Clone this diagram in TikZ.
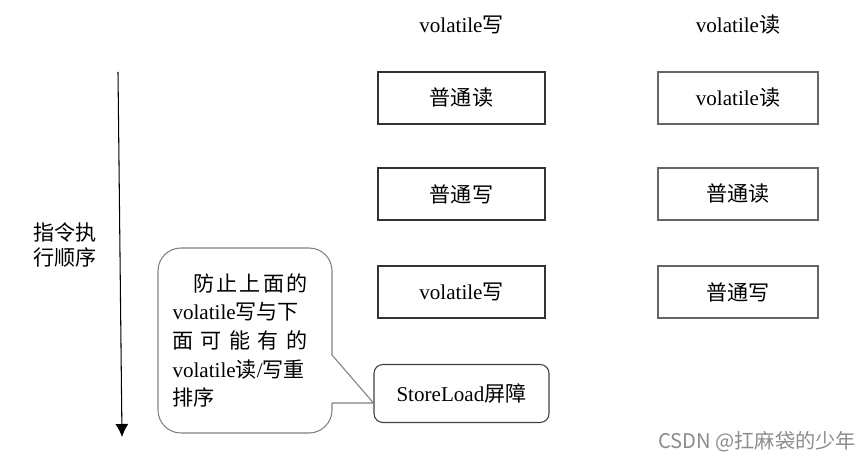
\documentclass[tikz,border=0pt]{standalone}
\usepackage{fontspec}
\setmainfont{Liberation Serif}
\newfontfamily\cjkfont{Noto Sans CJK SC}
\usepackage{tikz}
\usetikzlibrary{arrows.meta,positioning,calc}
\usepackage{xcolor}
\newcommand{\zh}[1]{{\cjkfont #1}}
\newcommand{\fsz}{\fontsize{12pt}{14pt}\selectfont}

\begin{document}
\begin{tikzpicture}[x=0.02cm,y=-0.02cm,
  opbox/.style={draw=black!80,line width=0.6pt,minimum width=3.34cm,minimum height=1.04cm,font=\fsz},
  rdbox/.style={opbox,draw=black!60,minimum width=3.2cm},
  barrier/.style={draw=black!75,line width=0.6pt,rounded corners=5pt,minimum width=3.5cm,minimum height=1.16cm,font=\fsz},
  note/.style={draw=black!50,line width=0.6pt,rounded corners=13pt,minimum width=3.48cm,minimum height=3.7cm,text width=2.9cm,align=left,font=\fontsize{12pt}{16.3pt}\selectfont},
  head/.style={font=\fsz}]
\useasboundingbox (0,0) rectangle (867,465);
% column headers
\node[head] (hw) at (461.5,25) {volatile\zh{写}};
\node[head] (hr) at (738,25) {volatile\zh{读}};
% volatile write column
\node[opbox] (w1) at (461.5,98) {\zh{普通读}};
\node[opbox] (w2) at (461.5,194) {\zh{普通写}};
\node[opbox] (w3) at (461.5,292) {volatile\zh{写}};
\node[barrier] (sl) at (461.5,393.5) {StoreLoad\zh{屏障}};
% volatile read column
\node[rdbox] (r1) at (738,98) {volatile\zh{读}};
\node[rdbox] (r2) at (738,194) {\zh{普通读}};
\node[rdbox] (r3) at (738,292) {\zh{普通写}};
% execution order
\coordinate (top) at (118,72);
\coordinate (bot) at (122,437);
\draw[line width=0.6pt,-{Latex[length=0.26cm,width=0.26cm]}] (top) -- (bot);
\node[font=\fsz,align=left] (order) at (65,245) {\zh{指令执}\\\zh{行顺序}};
% callout
\node[note] (nt) at (245,340.5) {%
\makebox[2.7cm][l]{\hspace*{1em}\zh{防\hfill 止\hfill 上\hfill 面\hfill 的}}\\
volatile\zh{写与下}\\
\makebox[2.7cm][l]{\zh{面\hfill 可\hfill 能\hfill 有\hfill 的}}\\
volatile\zh{读}/\zh{写重}\\
\zh{排序}};
\coordinate (pa) at (332,355);
\coordinate (pb) at (332,403);
\coordinate (tip) at ($(sl.west)+(0,9.5)$);
\draw[white,line width=1.5pt] (pa) -- (pb);
\draw[draw=black!50,line width=0.6pt] (pa) -- (tip) -- (pb);
% watermark
\node[font=\cjkfont\fontsize{11.5pt}{13pt}\selectfont,text=black!45] (wm) at (757,442) {CSDN @扛麻袋的少年};
\end{tikzpicture}
\end{document}
